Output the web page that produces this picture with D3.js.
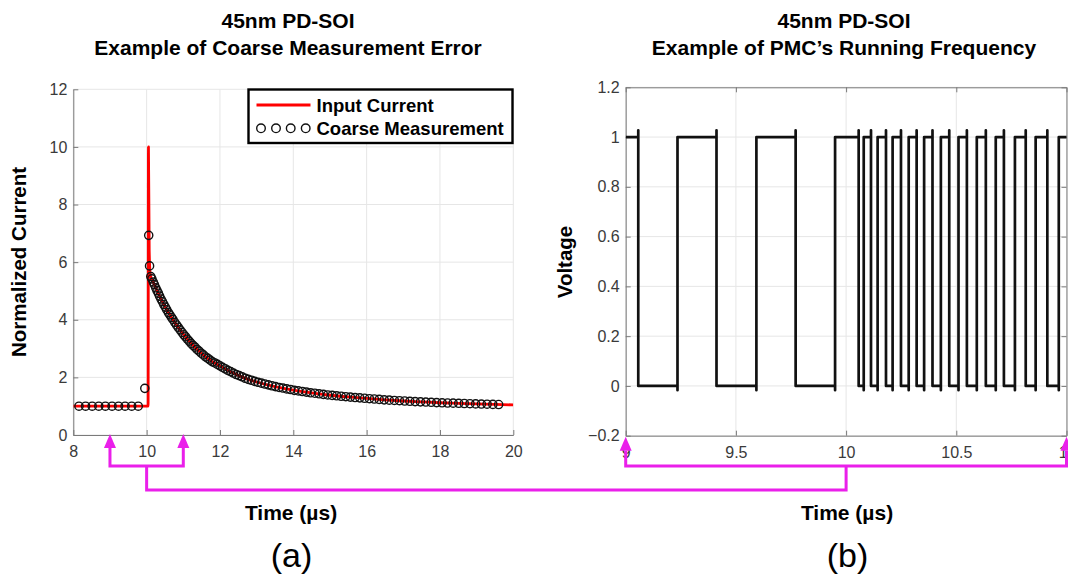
<!DOCTYPE html>
<html>
<head>
<meta charset="utf-8">
<script src="https://cdn.jsdelivr.net/npm/d3@7"></script>
<style>
  body { margin: 0; background: #fff; }
  svg { display: block; }
  text { font-family: "Liberation Sans", Arial, Helvetica, sans-serif; }
</style>
</head>
<body>
<svg id="fig" width="1068" height="582"></svg>
<script>
// ---- Panel (a): input current and coarse measurement ----
const inputTime = [8, 10.04, 10.05, 10.07, 10.1, 10.2, 10.3, 10.4, 10.5, 10.6, 10.7, 10.8, 10.9, 11.0,
  11.2, 11.4, 11.6, 11.8, 12.0, 12.25, 12.5, 12.75, 13.0, 13.5, 14.0, 14.5, 15.0, 15.5, 16.0,
  16.5, 17.0, 17.5, 18.0, 18.5, 19.0, 19.5, 20.0];
const inputCurrent = [1, 1, 10, 6.4, 5.55, 5.25, 4.97, 4.7, 4.46, 4.24, 4.04, 3.85, 3.67, 3.5,
  3.2, 2.94, 2.72, 2.54, 2.4, 2.22, 2.07, 1.94, 1.84, 1.68, 1.56, 1.46, 1.38, 1.32, 1.27,
  1.22, 1.18, 1.15, 1.12, 1.1, 1.08, 1.06, 1.045];

const coarseTime = [8.155, 8.335, 8.515, 8.695, 8.875, 9.057, 9.235, 9.412, 9.593, 9.771,
  9.950, 10.057, 10.080, 10.113, 10.143, 10.181, 10.211, 10.249, 10.284, 10.320, 10.354,
  10.392, 10.430, 10.468, 10.510, 10.548, 10.593, 10.634, 10.679, 10.716, 10.766, 10.815,
  10.860, 10.913, 10.965, 11.012, 11.060, 11.110, 11.160, 11.212, 11.265, 11.319, 11.374,
  11.431, 11.489, 11.548, 11.608, 11.670, 11.733, 11.798, 11.864, 11.931, 12.000, 12.070,
  12.142, 12.215, 12.290, 12.366, 12.444, 12.524, 12.606, 12.689, 12.774, 12.861, 12.949,
  13.039, 13.131, 13.224, 13.319, 13.416, 13.514, 13.614, 13.716, 13.819, 13.924, 14.030,
  14.138, 14.248, 14.359, 14.472, 14.587, 14.703, 14.820, 14.939, 15.060, 15.182, 15.306,
  15.431, 15.557, 15.685, 15.814, 15.944, 16.076, 16.209, 16.343, 16.479, 16.617, 16.756,
  16.896, 17.037, 17.179, 17.323, 17.468, 17.614, 17.761, 17.909, 18.058, 18.208, 18.359,
  18.511, 18.664, 18.818, 18.973, 19.129, 19.285, 19.442, 19.600];
const coarseValue = [1, 1, 1, 1, 1, 1, 1, 1, 1, 1,
  1.62, 6.93, 5.87, 5.50, 5.42, 5.31, 5.22, 5.11, 5.01, 4.92, 4.82,
  4.72, 4.63, 4.53, 4.44, 4.35, 4.25, 4.17, 4.08, 4.01, 3.91, 3.82,
  3.74, 3.65, 3.56, 3.48, 3.41, 3.33, 3.26, 3.18, 3.11, 3.05, 2.97,
  2.91, 2.84, 2.78, 2.71, 2.66, 2.60, 2.54, 2.50, 2.45, 2.40, 2.35,
  2.30, 2.245, 2.20, 2.15, 2.10, 2.06, 2.02, 1.97, 1.93, 1.90, 1.86,
  1.83, 1.80, 1.77, 1.74, 1.71, 1.68, 1.65, 1.63, 1.60, 1.58, 1.55,
  1.53, 1.51, 1.49, 1.465, 1.45, 1.43, 1.41, 1.39, 1.375, 1.36, 1.345,
  1.33, 1.315, 1.30, 1.29, 1.275, 1.26, 1.25, 1.235, 1.22, 1.21, 1.20,
  1.19, 1.18, 1.17, 1.16, 1.15, 1.143, 1.135, 1.125, 1.117, 1.11, 1.105,
  1.10, 1.093, 1.087, 1.08, 1.075, 1.07, 1.063, 1.058];

const aXTicks = [8, 10, 12, 14, 16, 18, 20];
const aYTicks = [0, 2, 4, 6, 8, 10, 12];
const legendLabels = ["Input Current", "Coarse Measurement"];

// ---- Panel (b): PMC output waveform ----
// Edge times, alternating falling / rising, starting from the high level.
const pmcEdgeTime = [9.057, 9.235, 9.412, 9.593, 9.771, 9.950, 10.057, 10.080, 10.113, 10.143,
  10.181, 10.211, 10.249, 10.284, 10.320, 10.354, 10.392, 10.430, 10.468, 10.510, 10.548,
  10.593, 10.634, 10.679, 10.716, 10.766, 10.815, 10.860, 10.913, 10.965];
const pmcStartLevel = 1;
const pmcFallPeak = 1.027;   // overshoot just before each falling edge
const pmcRiseDip = -0.017;   // undershoot just before each rising edge

const bXTicks = [9, 9.5, 10, 10.5, 11];
const bYTicks = [-0.2, 0, 0.2, 0.4, 0.6, 0.8, 1, 1.2];

// ---- layout ----
const svg = d3.select("#fig");
const magenta = "#ea1fea";
const axisColor = "#7a7a7a";
const gridColor = "#e6e6e6";
const tickText = "#3a3a3a";

const xa = d3.scaleLinear().domain([8, 20]).range([73.3, 513.3]);
const ya = d3.scaleLinear().domain([0, 12]).range([435, 89.3]);
const xb = d3.scaleLinear().domain([9, 11]).range([625.7, 1066.5]);
const yb = d3.scaleLinear().domain([-0.2, 1.2]).range([435.7, 87.3]);

const defs = svg.append("defs");
defs.append("clipPath").attr("id", "clipA").append("rect")
  .attr("x", xa(8)).attr("y", ya(12)).attr("width", xa(20) - xa(8)).attr("height", ya(0) - ya(12));
defs.append("clipPath").attr("id", "clipB").append("rect")
  .attr("x", xb(9)).attr("y", yb(1.2) - 3).attr("width", xb(11) - xb(9)).attr("height", yb(-0.2) - yb(1.2) + 3);

function grid(g, x, y, xt, yt) {
  g.selectAll(".gx").data(xt).join("line")
    .attr("x1", d => x(d)).attr("x2", d => x(d))
    .attr("y1", y.range()[0]).attr("y2", y.range()[1])
    .attr("stroke", gridColor).attr("stroke-width", 1);
  g.selectAll(".gy").data(yt).join("line").attr("class", "gy")
    .attr("x1", x.range()[0]).attr("x2", x.range()[1])
    .attr("y1", d => y(d)).attr("y2", d => y(d))
    .attr("stroke", gridColor).attr("stroke-width", 1);
}

function styleAxis(g) {
  g.select(".domain").attr("stroke", axisColor).attr("stroke-width", 1);
  g.selectAll(".tick line").attr("stroke", axisColor);
  g.selectAll(".tick text").attr("fill", tickText).attr("font-size", 16)
    .style("font-family", "'Liberation Sans', Arial, sans-serif");
}

// ===== Panel (a) =====
const pa = svg.append("g");
grid(pa.append("g"), xa, ya, aXTicks, aYTicks);

pa.append("g").attr("transform", `translate(0,${ya(0)})`)
  .call(d3.axisBottom(xa).tickValues(aXTicks).tickFormat(d3.format("d"))
    .tickSizeInner(-5).tickSizeOuter(0).tickPadding(11))
  .call(styleAxis);
pa.append("g").attr("transform", `translate(${xa(8)},0)`)
  .call(d3.axisLeft(ya).tickValues(aYTicks).tickFormat(d3.format("d"))
    .tickSizeInner(-5).tickSizeOuter(0).tickPadding(6))
  .call(styleAxis);

const inputPts = inputTime.map((t, i) => [t, inputCurrent[i]]);
pa.append("path").datum(inputPts)
  .attr("clip-path", "url(#clipA)")
  .attr("fill", "none").attr("stroke", "#ff0000").attr("stroke-width", 2.8)
  .attr("stroke-linejoin", "round")
  .attr("d", d3.line().x(d => xa(d[0])).y(d => ya(d[1])).curve(d3.curveMonotoneX));

const coarsePts = coarseTime.map((t, i) => [t, coarseValue[i]]);
pa.append("g").selectAll("circle").data(coarsePts).join("circle")
  .attr("cx", d => xa(d[0])).attr("cy", d => ya(d[1])).attr("r", 4.1)
  .attr("fill", "none").attr("stroke", "#111").attr("stroke-width", 1.4);

// legend
const lg = pa.append("g");
lg.append("rect").attr("x", 248.5).attr("y", 89.5).attr("width", 264).attr("height", 53.5)
  .attr("fill", "#fff").attr("stroke", "#000").attr("stroke-width", 2.4);
lg.append("line").attr("x1", 256.5).attr("x2", 310.5).attr("y1", 105).attr("y2", 105)
  .attr("stroke", "#ff0000").attr("stroke-width", 2.8);
lg.selectAll("circle").data([261, 276, 290.7, 305.7]).join("circle")
  .attr("cx", d => d).attr("cy", 128.3).attr("r", 4.3)
  .attr("fill", "none").attr("stroke", "#111").attr("stroke-width", 1.4);
lg.selectAll("text").data(legendLabels).join("text")
  .attr("x", 316.5).attr("y", (d, i) => 111.5 + i * 23)
  .attr("font-size", 18.5).attr("font-weight", "bold").attr("fill", "#000")
  .text(d => d);

// ===== Panel (b) =====
const pb = svg.append("g");
grid(pb.append("g"), xb, yb, bXTicks, bYTicks);

const fmtB = d => (d === 0 ? "0" : d3.format("~g")(+d.toFixed(1)));
pb.append("g").attr("transform", `translate(0,${yb(-0.2)})`)
  .call(d3.axisBottom(xb).tickValues(bXTicks).tickFormat(fmtB)
    .tickSizeInner(-5).tickSizeOuter(0).tickPadding(11))
  .call(styleAxis);
pb.append("g").attr("transform", `translate(0,${yb(1.2)})`)
  .call(d3.axisTop(xb).tickValues(bXTicks).tickFormat("")
    .tickSizeInner(-5).tickSizeOuter(0))
  .call(styleAxis);
pb.append("g").attr("transform", `translate(${xb(9)},0)`)
  .call(d3.axisLeft(yb).tickValues(bYTicks).tickFormat(fmtB)
    .tickSizeInner(-5).tickSizeOuter(0).tickPadding(6))
  .call(styleAxis);
pb.append("g").attr("transform", `translate(${xb(11)},0)`)
  .call(d3.axisRight(yb).tickValues(bYTicks).tickFormat("")
    .tickSizeInner(-5).tickSizeOuter(0))
  .call(styleAxis);

// square wave from the edge list
const wave = [[9, pmcStartLevel]];
let level = pmcStartLevel;
pmcEdgeTime.forEach(t => {
  if (level === 1) { wave.push([t, 1], [t, pmcFallPeak], [t, 0]); level = 0; }
  else { wave.push([t, 0], [t, pmcRiseDip], [t, 1]); level = 1; }
});
wave.push([11.05, level]);

pb.append("path").datum(wave)
  .attr("clip-path", "url(#clipB)")
  .attr("fill", "none").attr("stroke", "#111").attr("stroke-width", 2.7)
  .attr("stroke-linejoin", "round")
  .attr("d", d3.line().x(d => xb(d[0])).y(d => yb(d[1])));

// ===== titles and labels =====
function label(x, y, txt, size, weight, rotate) {
  return svg.append("text")
    .attr("transform", `translate(${x},${y})` + (rotate ? " rotate(-90)" : ""))
    .attr("text-anchor", "middle").attr("font-size", size)
    .attr("font-weight", weight).attr("fill", "#000").text(txt);
}
label(288, 27.5, "45nm PD-SOI", 21, "bold");
label(288, 55, "Example of Coarse Measurement Error", 21, "bold");
label(844, 27.5, "45nm PD-SOI", 21, "bold");
label(844, 55, "Example of PMC\u2019s Running Frequency", 21, "bold");

label(26, 262, "Normalized Current", 20.5, "bold", true);
label(572, 262, "Voltage", 20.5, "bold", true);

label(291, 520, "Time (\u00b5s)", 21, "bold");
label(847, 520, "Time (\u00b5s)", 21, "bold");

label(291.5, 567, "(a)", 34, "normal");
label(847.5, 567, "(b)", 34, "normal");

// ===== magenta linkage: the 9–11 µs window of (a) maps onto (b) =====
const ann = svg.append("g");
const yTipA = ya(0) - 1, yTipB = yb(-0.2) + 1;
const yBracket = 466, yLink = 490;
const headW = 6, headH = 14;

const linkSegments = [
  // bracket under (a)
  [[xa(9), yTipA + headH], [xa(9), yBracket], [xa(11), yBracket], [xa(11), yTipA + headH]],
  // link between the panels
  [[xa(10), yBracket], [xa(10), yLink], [xb(10), yLink], [xb(10), yBracket]],
  // bracket under (b)
  [[xb(9), yTipB + headH], [xb(9), yBracket], [xb(11), yBracket], [xb(11), yTipB + headH]]
];
linkSegments.forEach(seg => {
  ann.append("path").datum(seg)
    .attr("fill", "none").attr("stroke", magenta).attr("stroke-width", 3)
    .attr("stroke-linejoin", "miter")
    .attr("d", d3.line());
});

function arrowUp(x, yTip) {
  ann.append("path")
    .attr("d", `M${x},${yTip} L${x - headW},${yTip + headH} L${x + headW},${yTip + headH} Z`)
    .attr("fill", magenta);
}
arrowUp(xa(9), yTipA);
arrowUp(xa(11), yTipA);
arrowUp(xb(9), yTipB);
arrowUp(xb(11), yTipB);
</script>
</body>
</html>
